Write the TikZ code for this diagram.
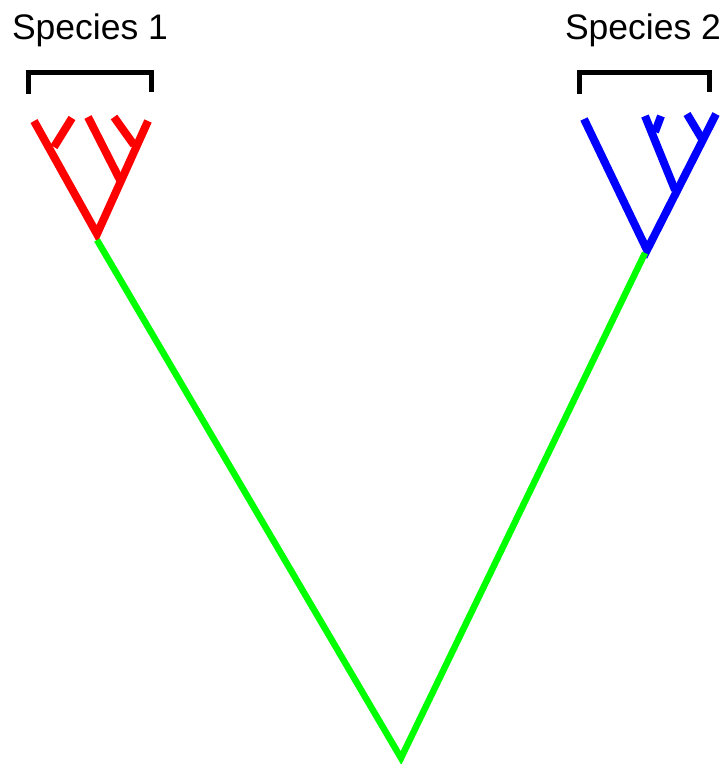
\documentclass[tikz,border=0pt]{standalone}
\usepackage{fontspec}
\setmainfont{Liberation Sans}
\definecolor{tred}{RGB}{255,0,0}
\definecolor{tblue}{RGB}{0,0,255}
\definecolor{tgreen}{RGB}{0,255,0}
\begin{document}
\begin{tikzpicture}[x=1pt,y=-1pt,
  redb/.style={draw=tred,line width=8pt},
  blueb/.style={draw=tblue,line width=8pt},
  greenb/.style={draw=tgreen,line width=6.5pt},
  brack/.style={draw=black,line width=5pt},
  lbl/.style={font=\fontsize{35.5}{36}\selectfont,inner sep=0pt,anchor=base}]
\useasboundingbox (0,0) rectangle (728,764);
% labels
\node[lbl] (s1) at (90,39) {Species 1};
\node[lbl] (s2) at (643,39) {Species 2};
% brackets
\draw[brack] (28,94) -- (28,72) -- (151,72) -- (151,92);
\draw[brack] (579,94) -- (579,72) -- (709,72) -- (709,92);
% red tree
\coordinate (r0) at (97,234);
\coordinate (rA) at (34,121);
\coordinate (rB) at (148,121);
\coordinate (rn1) at (54,147);
\coordinate (rt1) at (72,118);
\coordinate (rn2) at (120,180);
\coordinate (rt2) at (88,117);
\coordinate (rn3) at (134,145);
\coordinate (rt3) at (114,117);
\draw[redb] (rA) -- (r0) -- (rB);
\draw[redb] (rn1) -- (rt1);
\draw[redb] (rn2) -- (rt2);
\draw[redb] (rn3) -- (rt3);
% blue tree
\coordinate (b0) at (647,250);
\coordinate (bA) at (584,119);
\coordinate (bB) at (716,114);
\coordinate (bn1) at (675,190);
\coordinate (bt1) at (645,116);
\coordinate (bn2) at (655,132);
\coordinate (bt2) at (661,116);
\coordinate (bn3) at (702,139);
\coordinate (bt3) at (687,114);
\draw[blueb] (bA) -- (b0) -- (bB);
\draw[blueb] (bn1) -- (bt1);
\draw[blueb] (bn2) -- (bt2);
\draw[blueb] (bn3) -- (bt3);
% green
\coordinate (g0) at (97,240);
\coordinate (gb) at (401,758);
\coordinate (g1) at (645,253);
\draw[greenb] (g0) -- (gb) -- (g1);
\end{tikzpicture}
\end{document}
